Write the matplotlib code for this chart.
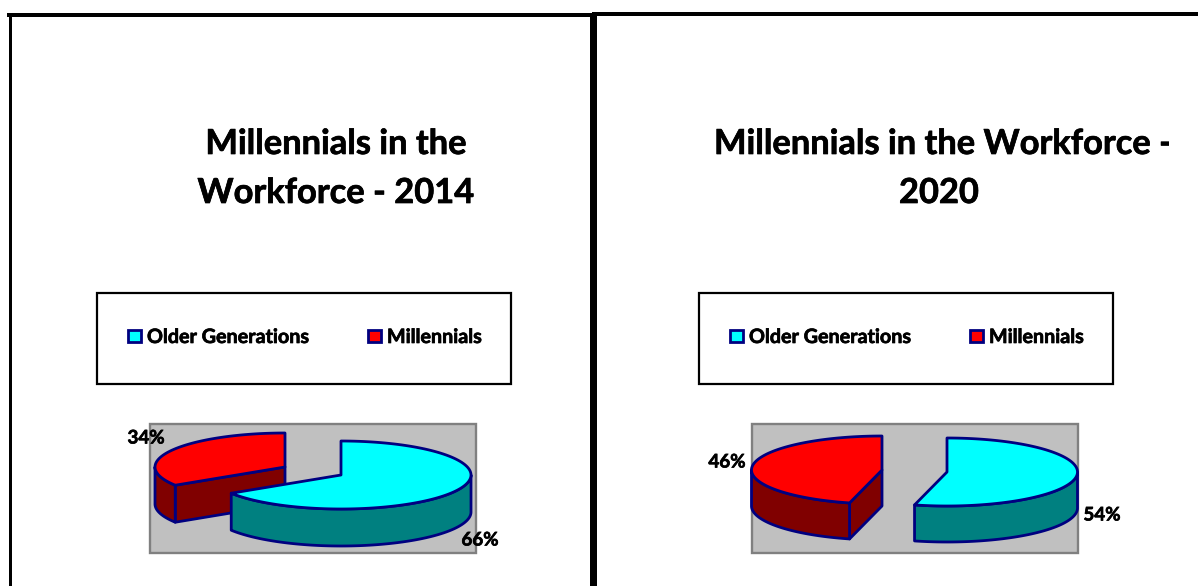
import numpy as np
import matplotlib
matplotlib.use('Agg')
import matplotlib.pyplot as plt
import matplotlib.patheffects as pe
from matplotlib.patches import Polygon, Rectangle
from matplotlib.transforms import Bbox

categories = ['Older Generations', 'Millennials']
values_2014 = [66, 34]
values_2020 = [54, 46]
title_2014 = ['Millennials in the', 'Workforce - 2014']
title_2020 = ['Millennials in the Workforce -', '2020']

W, H = 1198, 586
NAVY = '#000080'
TOP_COLORS = ['#00FFFF', '#FF0000']
SIDE_COLORS = ['#008080', '#800000']
FONT = 'Lato'
TITLE_SIZE = 24.8
LEGEND_SIZE = 14.2
LABEL_SIZE = 13.5
# thickens Lato Bold a little
HEAVY = [pe.withStroke(linewidth=0.5, foreground='black')]


def arc(cx, cy, rx, ry, t0, t1):
    # t is in degrees, clockwise from 12 o'clock
    t = np.radians(np.linspace(t0, t1, 120))
    return np.column_stack([cx + rx * np.sin(t), cy - ry * np.cos(t)])


def add_poly(ax, pts, color, z):
    ax.add_patch(Polygon(pts, closed=True, facecolor=color, edgecolor=NAVY,
                         linewidth=2.0, joinstyle='round', zorder=z))


def draw_slice(ax, cx, cy, rx, ry, depth, t0, t1, top, side, z):
    down = np.array([0, depth])
    # cut faces that look towards the viewer
    for t, normal in ((t0, t0 - 90), (t1, t1 + 90)):
        if np.cos(np.radians(normal)) < -1e-6:
            edge = arc(cx, cy, rx, ry, t, t)[:1]
            apex = np.array([[cx, cy]])
            add_poly(ax, np.vstack([apex, edge, edge + down, apex + down]), side, z)
    # outer wall, only the front half of the rim shows
    a, b = max(t0, 90), min(t1, 270)
    if a < b:
        rim = arc(cx, cy, rx, ry, a, b)
        add_poly(ax, np.vstack([rim, (rim + down)[::-1]]), side, z)
    rim = arc(cx, cy, rx, ry, t0, t1)
    add_poly(ax, np.vstack([[cx, cy], rim]), top, z + 0.1)


def draw_pie(ax, values, centers, rx, ry, depth):
    t = 0
    for i, v in enumerate(values):
        t_end = t + v / sum(values) * 360
        cx, cy = centers[i]
        draw_slice(ax, cx, cy, rx, ry, depth, t, t_end,
                   TOP_COLORS[i], SIDE_COLORS[i], 3 - i)
        t = t_end


def put_text(ax, x, y, s, size, ha='center', z=7):
    return ax.text(x, y, s, fontsize=size, fontweight='bold', family=FONT, ha=ha, va='center',
                   color='black', zorder=z, path_effects=HEAVY)


def draw_legend(ax, x0, y0):
    ax.add_patch(Rectangle((x0, y0), 414, 91, facecolor='white', edgecolor='black',
                           linewidth=1.6, zorder=1))
    for name, color, mx in zip(categories, TOP_COLORS, (x0 + 31, x0 + 271)):
        ax.add_patch(Rectangle((mx, y0 + 37), 13, 12, facecolor=color, edgecolor=NAVY,
                               linewidth=2.0, zorder=2))
        put_text(ax, mx + 19, y0 + 44, name, LEGEND_SIZE, ha='left')


def draw_area(ax, x0):
    ax.add_patch(Rectangle((x0, 424), 326, 129, facecolor='#C0C0C0', edgecolor='#808080',
                           linewidth=1.7, zorder=1))


def main():
    fig = plt.figure(figsize=(W / 100, H / 100), dpi=100, facecolor='white')
    ax = fig.add_axes([0, 0, 1, 1])
    ax.set_xlim(0, W)
    ax.set_ylim(H, 0)
    ax.axis('off')

    # frames round the two panels
    for x, y, w, h in ((7, 13, 586, 4), (592, 12, 606, 4), (9, 17, 3, 569), (590, 13, 7, 573)):
        ax.add_patch(Rectangle((x, y), w, h, facecolor='black', edgecolor='none', zorder=6))

    # 2014 panel
    for line, y in zip(title_2014, (144, 193)):
        put_text(ax, 336, y, line, TITLE_SIZE)
    draw_legend(ax, 97, 293)
    draw_area(ax, 150)
    draw_pie(ax, values_2014, [(341, 475), (285, 467)], 130, 34, 37)
    put_text(ax, 146, 438, f'{values_2014[1]}%', LABEL_SIZE)
    put_text(ax, 480, 540, f'{values_2014[0]}%', LABEL_SIZE)

    # 2020 panel
    first = put_text(ax, 714, 144, title_2020[0], TITLE_SIZE, ha='left')
    # the first title line runs out of the chart box on the right
    first.set_clip_box(Bbox.from_extents(0, 0, 1169, H))
    first.set_clip_on(True)
    put_text(ax, 939, 193, title_2020[1], TITLE_SIZE)
    draw_legend(ax, 699, 293)
    draw_area(ax, 752)
    draw_pie(ax, values_2020, [(947, 472), (882, 470)], 130.5, 34, 36)
    put_text(ax, 727, 462, f'{values_2020[1]}%', LABEL_SIZE)
    put_text(ax, 1102, 515, f'{values_2020[0]}%', LABEL_SIZE)

    fig.savefig('out.png', dpi=100)


if __name__ == '__main__':
    main()
